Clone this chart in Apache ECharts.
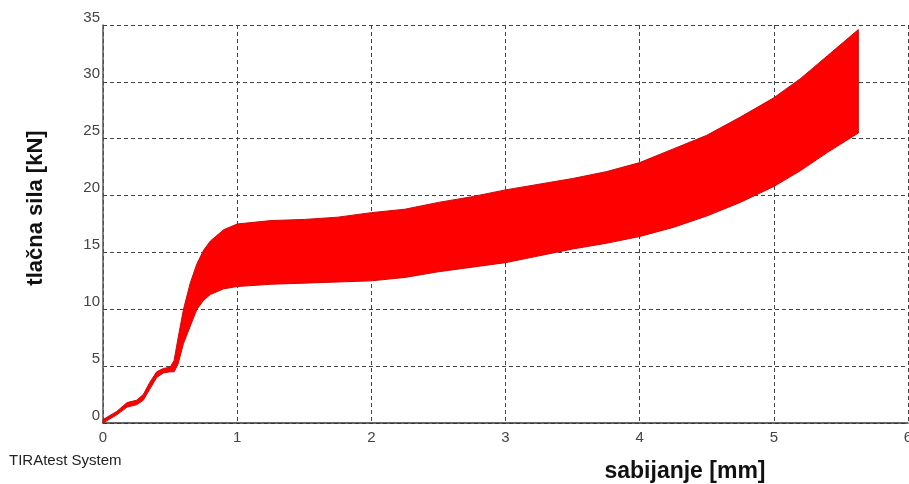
<!DOCTYPE html>
<html>
<head>
<meta charset="utf-8">
<script src="https://cdn.jsdelivr.net/npm/echarts@6/dist/echarts.min.js"></script>
<style>
  html, body { margin: 0; padding: 0; background: #fff; }
  #chart { width: 909px; height: 484px; }
</style>
</head>
<body>
<div id="chart"></div>
<script>
// pomak (mm) i ovojnice oscilirajuce sile (kN)
var pomak = [0, 0.1, 0.18, 0.25, 0.3, 0.35, 0.4, 0.45, 0.5, 0.53, 0.56, 0.6, 0.65, 0.7, 0.75, 0.8, 0.9, 1.0,
    1.25, 1.5, 1.75, 2.0, 2.25, 2.5, 2.75, 3.0, 3.25, 3.5, 3.75, 4.0, 4.25, 4.5, 4.75, 5.0, 5.2, 5.4, 5.63];
var silaGornja = [0.3, 1.0, 1.8, 2.0, 2.5, 3.6, 4.5, 4.8, 4.9, 5.5, 7.5, 10.0, 12.3, 14.0, 15.2, 16.0, 17.0, 17.5,
    17.8, 17.9, 18.1, 18.5, 18.8, 19.4, 19.9, 20.5, 21.0, 21.5, 22.1, 22.9, 24.1, 25.3, 26.9, 28.6, 30.3, 32.3, 34.6];
var silaDonja = [0, 0.7, 1.4, 1.6, 2.0, 3.0, 4.0, 4.4, 4.5, 4.5, 5.2, 7.0, 8.5, 10.0, 10.8, 11.3, 11.8, 12.0,
    12.2, 12.3, 12.4, 12.5, 12.8, 13.3, 13.7, 14.1, 14.7, 15.3, 15.8, 16.4, 17.2, 18.2, 19.4, 20.8, 22.2, 23.8, 25.5];
var xTicks = [0, 1, 2, 3, 4, 5, 6];
var yTicks = [0, 5, 10, 15, 20, 25, 30, 35];

var chart = echarts.init(document.getElementById('chart'));

var pojasData = [];
for (var i = 0; i < pomak.length; i++) {
    pojasData.push([pomak[i], silaDonja[i], silaGornja[i]]);
}

// crta cijeli pojas (gornja pa donja ovojnica unatrag) kao jedan poligon
function crtajPojas(params, api) {
    if (params.dataIndex !== 0) return;
    var pts = [];
    for (var i = 0; i < pomak.length; i++) {
        pts.push(api.coord([pomak[i], silaGornja[i]]));
    }
    for (var j = pomak.length - 1; j >= 0; j--) {
        pts.push(api.coord([pomak[j], silaDonja[j]]));
    }
    return {
        type: 'polygon',
        shape: { points: pts },
        style: { fill: '#ff0000', stroke: '#cc0a0a', lineWidth: 1 }
    };
}

var option = {
    animation: false,
    backgroundColor: '#fff',
    grid: { left: 103, right: 1, top: 25, bottom: 61, outerBoundsMode: 'none' },
    xAxis: {
        type: 'value',
        min: xTicks[0],
        max: xTicks[xTicks.length - 1],
        interval: 1,
        axisLine: { show: true, lineStyle: { color: '#333', width: 1.5 } },
        axisTick: { show: false },
        axisLabel: { color: '#444', fontFamily: 'Liberation Sans', fontSize: 15, margin: 7 },
        splitLine: { show: true, lineStyle: { color: '#444', type: [4, 3], width: 1 } }
    },
    yAxis: {
        type: 'value',
        min: yTicks[0],
        max: yTicks[yTicks.length - 1],
        interval: 5,
        axisLine: { show: true, lineStyle: { color: '#555', width: 1.5 } },
        axisTick: { show: false },
        axisLabel: { color: '#444', fontFamily: 'Liberation Sans', fontSize: 15, margin: 3, verticalAlign: 'bottom' },
        splitLine: { show: true, lineStyle: { color: '#444', type: [4, 3], width: 1 } }
    },
    series: [
        {
            type: 'custom',
            renderItem: crtajPojas,
            data: pojasData,
            encode: { x: 0, y: [1, 2] },
            z: 3
        }
    ],
    graphic: [
        {
            type: 'text', left: 9, top: 453,
            style: { text: 'TIRAtest System', fill: '#222', font: '15px "Liberation Sans"' }
        },
        {
            type: 'text', x: 685, y: 472,
            style: { text: 'sabijanje [mm]', fill: '#111', font: 'bold 23px "Liberation Sans"', align: 'center', verticalAlign: 'middle' }
        },
        {
            type: 'text', x: 36, y: 208, rotation: Math.PI / 2,
            style: { text: 'tlačna sila [kN]', fill: '#111', font: 'bold 22px "Liberation Sans"', align: 'center', verticalAlign: 'middle' }
        }
    ]
};

chart.setOption(option);
</script>
</body>
</html>
